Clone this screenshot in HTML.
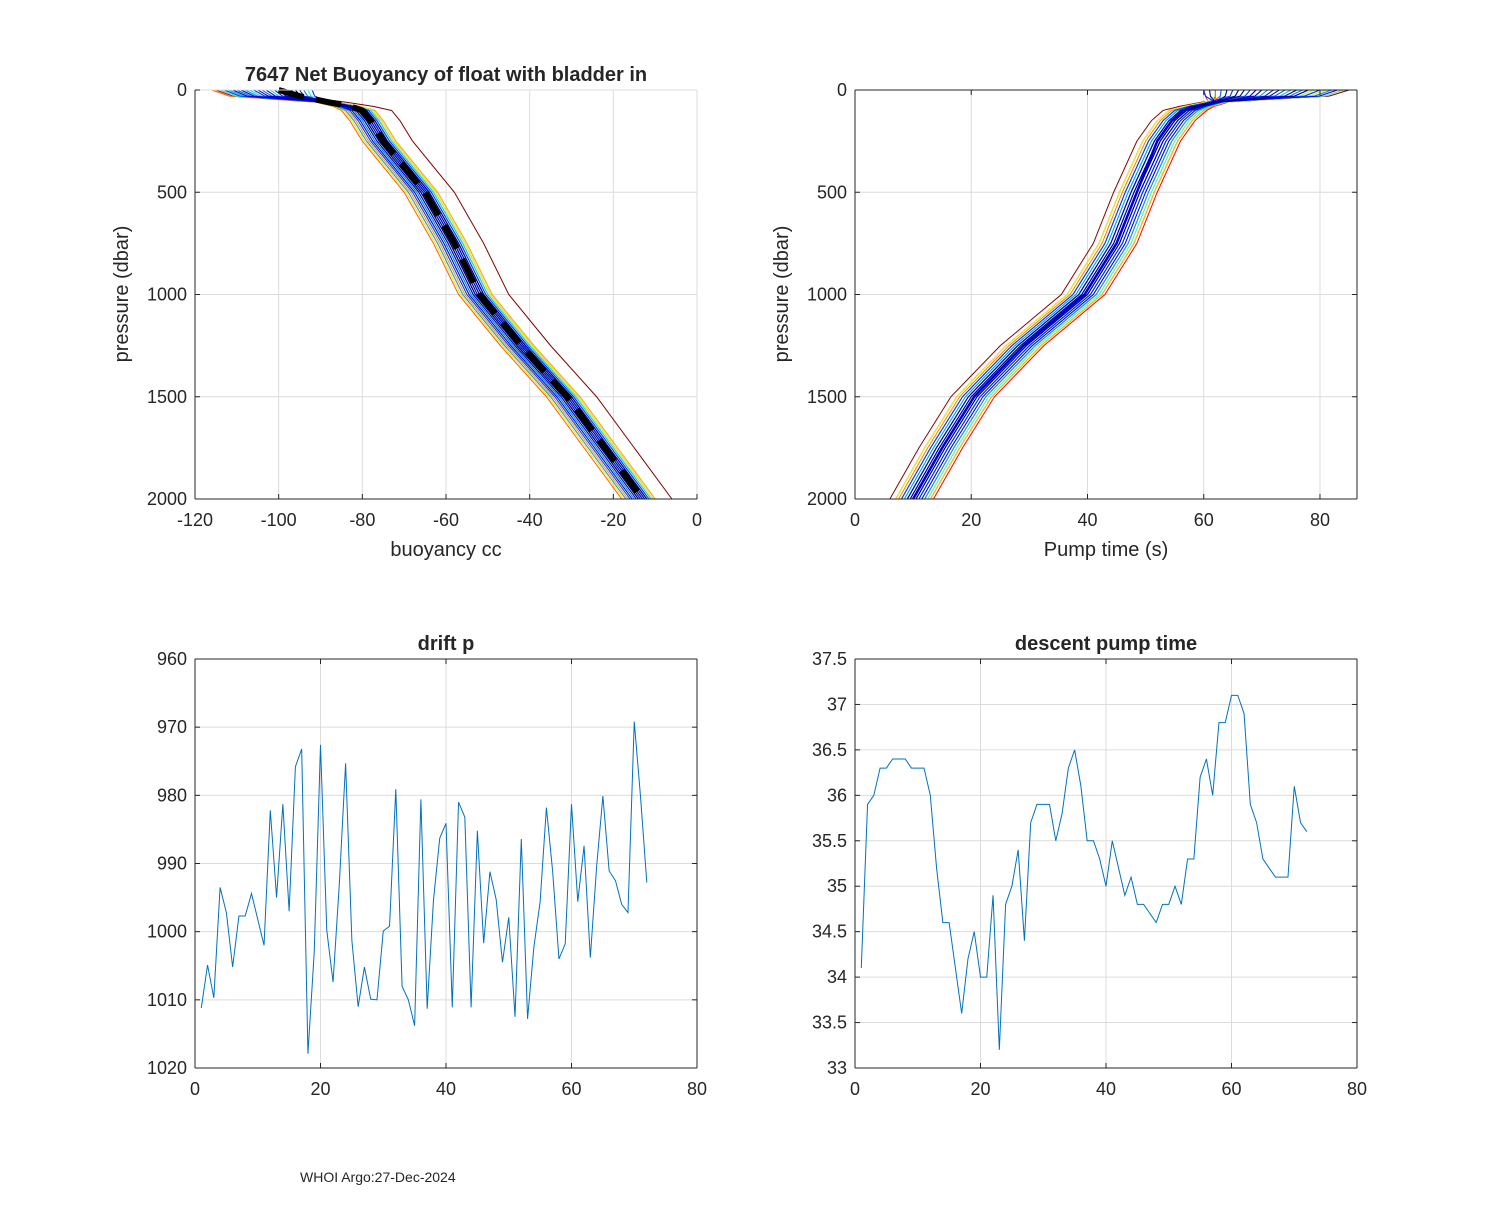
<!DOCTYPE html>
<html><head><meta charset="utf-8">
<style>
body{margin:0;background:#fff;}
svg text{font-family:"Liberation Sans",Arial,sans-serif;fill:#262626;}
</style></head>
<body>
<svg id="fig" width="1500" height="1200" xmlns="http://www.w3.org/2000/svg">
<rect width="1500" height="1200" fill="#fff"/>
<text x="300" y="1182" font-size="14" fill="#000">WHOI Argo:27-Dec-2024</text>
</svg>
<script>
// ===== Data =====
const profileDepths = [0,30,60,80,100,150,250,500,750,1000,1250,1500,1750,2000];
const buoyBase = [-100,-95,-88,-83,-80,-78,-75,-65,-58,-52,-42,-31,-22,-13];
const pumpBase = [72,68,62,59,57,55,52.5,48.5,45,39.5,29,20.5,15,10];
const buoyShift = [7,3,2.5,-1,0.5,-2,1,-3,-4,0,2,-1.5,1.5,-2.5,0,-5,-1,2,-3.5,0.5,1,-2,3,-0.5,-4.5,1.5,0,-1,2.5,-3,-2,1,-0.5,0.5,-1.5,2,-2.5,0,1,-1,-3,0.5,1.5,-2,-0.5,0,2,-1,-4,1,0.5,-1.5,-2,0,1,-0.5,-3,1.5,-1,0.5,0,-2.5,1,-1,0.5,-0.5,0,-1.5,1,-1];
const buoySurface = [-96,-112,-108,-100,-94,-115,-110,-104,-98,-92,-113,-106,-101,-95,-109,-116,-103,-97,-111,-105,-99,-93,-114,-107,-102,-96,-112,-108,-100,-94,-110,-104,-98,-113,-106,-101,-95,-109,-103,-97,-111,-105,-99,-93,-114,-107,-102,-96,-112,-108,-100,-94,-110,-104,-98,-92,-113,-106,-101,-95,-109,-103,-97,-111,-105,-99,-100,-98,-97,-96];
const pumpShift = [-2,-4,3,1,-1,2,0,-3,3.5,1,-2,0.5,2,-1,-3,1.5,0,-2.5,2.5,-0.5,1,-1.5,3,0,-2,1,-1,2,-3,0.5,1.5,-1,0,2,-2,1,-0.5,0,-1.5,2.5,-1,0.5,0,-2,1,-0.5,1.5,-1,0,0.5,-1.5,2,-0.5,1,0,-1,0.5,-2,1,0,-0.5,1.5,-1,0,0.5,-1,0.5,0,-0.5,0];
const pumpSurface = [85,70,64,78,62,82,68,74,66,80,60,72,84,63,76,69,81,65,73,79,61,71,83,67,75,64,77,70,62,81,68,74,65,79,72,63,84,66,76,70,61,78,67,73,80,64,69,75,62,82,71,66,77,63,74,68,80,65,72,60,83,69,76,64,70,66,73,61,78,67];
const pumpMean = [70,66,61,58,56.5,54.5,52,48.5,45,39.5,29,20.5,15,10];
const driftX = Array.from({length:72},(_,i)=>i+1);
const driftP = [1011.2,1004.9,1009.7,993.5,997.2,1005.2,997.7,997.7,994.4,998.2,1002.0,982.2,995.0,981.3,997.0,975.8,973.2,1017.9,1003,972.6,999.8,1007.4,993,975.3,1001.3,1011.0,1005.2,1009.9,1010.0,999.9,999.2,979.1,1008.0,1010.0,1013.8,980.6,1011.3,995.4,986.3,984.1,1011.1,981.0,983.2,1011.1,985.2,1001.7,991.2,995.3,1004.5,997.9,1012.5,986.4,1012.8,1002.3,995.6,981.8,991.2,1004.0,1001.8,981.3,995.6,987.4,1003.8,990.5,980.1,991.1,992.5,996.0,997.2,969.2,980.2,992.8];
const pumpTime = [34.1,35.9,36.0,36.3,36.3,36.4,36.4,36.4,36.3,36.3,36.3,36.0,35.2,34.6,34.6,34.1,33.6,34.2,34.5,34.0,34.0,34.9,33.2,34.8,35.0,35.4,34.4,35.7,35.9,35.9,35.9,35.5,35.8,36.3,36.5,36.1,35.5,35.5,35.3,35.0,35.5,35.2,34.9,35.1,34.8,34.8,34.7,34.6,34.8,34.8,35.0,34.8,35.3,35.3,36.2,36.4,36.0,36.8,36.8,37.1,37.1,36.9,35.9,35.7,35.3,35.2,35.1,35.1,35.1,36.1,35.7,35.6];
const buoyXTicks = [-120,-100,-80,-60,-40,-20,0];
const pressTicks = [0,500,1000,1500,2000];
const pumpXTicks = [0,20,40,60,80];
const driftYTicks = [960,970,980,990,1000,1010,1020];
const idxTicks = [0,20,40,60,80];
const ptYTicks = [33,33.5,34,34.5,35,35.5,36,36.5,37,37.5];

// ===== Helpers =====
const NS='http://www.w3.org/2000/svg';
const svg=document.getElementById('fig');
function mk(tag,attrs,parent){const e=document.createElementNS(NS,tag);for(const k in attrs)e.setAttribute(k,attrs[k]);(parent||svg).appendChild(e);return e;}
function clamp(v){return Math.min(Math.max(v,0),1);}
function jet(t){const r=clamp(Math.min(4*t-1.5,-4*t+4.5));const g=clamp(Math.min(4*t-0.5,-4*t+3.5));const b=clamp(Math.min(4*t+0.5,-4*t+2.5));return 'rgb('+Math.round(r*255)+','+Math.round(g*255)+','+Math.round(b*255)+')';}
// colour index: red drawn first, blue drawn last (on top)
function profColor(i,n){const t=1-i/(n-1);return jet(t);}

function axes(name,L,T,W,H,xmin,xmax,ymin,ymax,yrev,xt,yt,box,grayBox){
  const g=mk('g',{});
  
  
  const sx=v=>L+(v-xmin)/(xmax-xmin)*W;
  const sy=v=>yrev? T+(v-ymin)/(ymax-ymin)*H : T+H-(v-ymin)/(ymax-ymin)*H;
  xt.forEach(v=>{const x=sx(v);if(x>L+1&&x<L+W-1)mk('line',{x1:x,x2:x,y1:T,y2:T+H,stroke:'#dcdcdc','stroke-width':1},g);});
  yt.forEach(v=>{const y=sy(v);if(y>T+1&&y<T+H-1)mk('line',{x1:L,x2:L+W,y1:y,y2:y,stroke:'#dcdcdc','stroke-width':1},g);});
  return {g,sx,sy,L,T,W,H,xt,yt,box,grayBox};
}
function frame(a,xfmt,yfmt){
  const {g,sx,sy,L,T,W,H}=a;
  const c='#262626';
  if(a.grayBox){mk('line',{x1:L,x2:L+W,y1:T,y2:T,stroke:'#dcdcdc'},g);mk('line',{x1:L+W,x2:L+W,y1:T,y2:T+H,stroke:'#dcdcdc'},g);}
  if(a.box){mk('line',{x1:L,x2:L+W,y1:T,y2:T,stroke:c},g);mk('line',{x1:L+W,x2:L+W,y1:T,y2:T+H,stroke:c},g);}
  mk('line',{x1:L,x2:L,y1:T,y2:T+H,stroke:c},g);
  mk('line',{x1:L,x2:L+W,y1:T+H,y2:T+H,stroke:c},g);
  a.xt.forEach(v=>{const x=sx(v);mk('line',{x1:x,x2:x,y1:T+H,y2:T+H-5,stroke:c},g);
    if(a.box)mk('line',{x1:x,x2:x,y1:T,y2:T+5,stroke:c},g);
    const t=mk('text',{x:x,y:T+H+27,'font-size':18,'text-anchor':'middle'},g);t.textContent=xfmt(v);});
  a.yt.forEach(v=>{const y=sy(v);mk('line',{x1:L,x2:L+5,y1:y,y2:y,stroke:c},g);
    if(a.box)mk('line',{x1:L+W,x2:L+W-5,y1:y,y2:y,stroke:c},g);
    const t=mk('text',{x:L-8,y:y+6,'font-size':18,'text-anchor':'end'},g);t.textContent=yfmt(v);});
}
function label(txt,x,y,opts,name){const t=mk('text',Object.assign({x,y,'font-size':20,'text-anchor':'middle'},opts||{}));t.textContent=txt;
  
  return t;}

// ===== Top-left: buoyancy =====
const A=axes('buoyancy-chart',195,90,502,409,-120,0,0,2000,true,buoyXTicks,pressTicks,false,true);
const nP=buoySurface.length;
for(let i=0;i<nP;i++){
  const pts=profileDepths.map((d,k)=>{let v=buoyBase[k]+buoyShift[i]*Math.min(1,d/100);if(k===0)v=buoySurface[i];if(k===1)v=buoySurface[i]+(buoyBase[2]-buoySurface[i])*0.15;return A.sx(v)+','+A.sy(d);}).join(' ');
  const pl=mk('polyline',{points:pts,fill:'none',stroke:profColor(i,nP),'stroke-width':1},A.g);
  
  
}
const mean=mk('polyline',{points:profileDepths.map((d,k)=>A.sx(buoyBase[k])+','+A.sy(d)).join(' '),fill:'none',stroke:'#000','stroke-width':6,'stroke-dasharray':'26,12'},A.g);


frame(A,v=>String(v),v=>String(v));
label('7647 Net Buoyancy of float with bladder in',446,81,{'font-weight':'bold','fill':'#000'},'buoyancy-title');
label('buoyancy cc',446,556,{},'buoyancy-x-label');
label('pressure (dbar)',128,294,{transform:'rotate(-90 128 294)'},'buoyancy-y-label');

// ===== Top-right: pump time =====
const B=axes('pump-profile-chart',855,90,502,409,0,86.37,0,2000,true,pumpXTicks,pressTicks,true,false);
for(let i=0;i<nP;i++){
  const pts=profileDepths.map((d,k)=>{let v=pumpBase[k]+pumpShift[i]*Math.min(1,d/100);if(k===0)v=pumpSurface[i];if(k===1)v=pumpSurface[i]-(pumpSurface[i]-pumpBase[2])*0.15;return B.sx(v)+','+B.sy(d);}).join(' ');
  const pl=mk('polyline',{points:pts,fill:'none',stroke:profColor(i,nP),'stroke-width':1},B.g);
  
  
}
const pm=mk('polyline',{points:profileDepths.slice(3).map((d,k)=>B.sx(pumpMean[k+3])+','+B.sy(d)).join(' '),fill:'none',stroke:'#0000c8','stroke-width':2.5},B.g);


frame(B,v=>String(v),v=>String(v));
label('Pump time (s)',1106,556,{},'pump-x-label');
label('pressure (dbar)',788,294,{transform:'rotate(-90 788 294)'},'pump-y-label');

// ===== Bottom-left: drift p =====
const C=axes('drift-p-chart',195,659,502,409,0,80,960,1020,true,idxTicks,driftYTicks,true,false);
const dl=mk('polyline',{points:driftX.map((x,i)=>C.sx(x)+','+C.sy(driftP[i])).join(' '),fill:'none',stroke:'#0072bd','stroke-width':1},C.g);


frame(C,v=>String(v),v=>String(v));
label('drift p',446,650,{'font-weight':'bold','fill':'#000'},'drift-p-title');

// ===== Bottom-right: descent pump time =====
const D=axes('descent-pump-chart',855,659,502,409,0,80,33,37.5,false,idxTicks,ptYTicks,true,false);
const pl2=mk('polyline',{points:driftX.map((x,i)=>D.sx(x)+','+D.sy(pumpTime[i])).join(' '),fill:'none',stroke:'#0072bd','stroke-width':1},D.g);


frame(D,v=>String(v),v=>String(v));
label('descent pump time',1106,650,{'font-weight':'bold','fill':'#000'},'descent-pump-title');
</script>
</body></html>
